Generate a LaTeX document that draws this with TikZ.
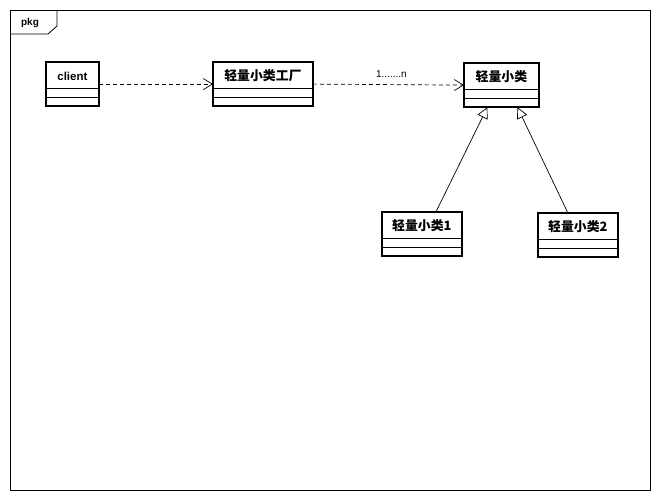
\documentclass[tikz,border=0pt]{standalone}
\usepackage{fontspec}
\setmainfont{Liberation Sans}
\newfontfamily\cjk{Noto Sans CJK SC}[Scale=1.12]
\usetikzlibrary{arrows.meta,shapes.multipart}

\tikzset{
  umlclass/.style={rectangle split, rectangle split parts=3, draw, line width=0.8pt,
    inner ysep=0pt, inner xsep=2pt, rectangle split empty part height=8pt,
    rectangle split empty part depth=0pt, anchor=north west,
    font=\bfseries\fontsize{11.5}{13}\selectfont},
  dep/.style={-{Straight Barb[length=9pt,width=11pt]}, dash pattern=on 4pt off 3pt, line width=0.7pt},
  gen/.style={-{Triangle[open,length=11pt,width=11pt,fill=white]}, line width=0.7pt},
}
\newcommand{\clsname}[1]{\rule[-7pt]{0pt}{25pt}#1}

\begin{document}
\begin{tikzpicture}[x=1pt,y=-1pt]
        \useasboundingbox (0,0) rectangle (660,500);
        % package frame
        \draw[line width=0.8pt] (10,10) rectangle (650,490);
        \draw[line width=0.8pt] (10,34) -- (48,34) -- (57,26) -- (57,10);
        \node[font=\bfseries\fontsize{10}{12}\selectfont] (pkg) at (30,23) {pkg};

        % classes
        \node[umlclass, minimum width=52pt] (client) at (46,62) {\clsname{client}\nodepart{two}\nodepart{three}};
        \node[umlclass, minimum width=99pt] (factory) at (213,62) {\clsname{\cjk 轻量小类工厂}\nodepart{two}\nodepart{three}};
        \node[umlclass, minimum width=74pt] (fly) at (464,63) {\clsname{\cjk 轻量小类}\nodepart{two}\nodepart{three}};
        \node[umlclass, minimum width=79pt] (flyA) at (382,212) {\clsname{\cjk 轻量小类1}\nodepart{two}\nodepart{three}};
        \node[umlclass, minimum width=79pt] (flyB) at (538,213) {\clsname{\cjk 轻量小类2}\nodepart{two}\nodepart{three}};
        \foreach \c in {client,factory,fly,flyA,flyB}
          \draw[line width=1.8pt] (\c.south west) rectangle (\c.north east);

        % relations
        \draw[dep] (client.east) -- (factory.west);
        \draw[dep] (factory.east) -- node[above=3pt, xshift=3pt, font=\fontsize{10}{12}\selectfont] (mult) {1.......n} (fly.west);
        \draw[gen] ([xshift=14pt]flyA.north) -- ([xshift=-14pt]fly.south);
        \draw[gen] ([xshift=-10pt]flyB.north) -- ([xshift=16pt]fly.south);
    \end{tikzpicture}
\end{document}
